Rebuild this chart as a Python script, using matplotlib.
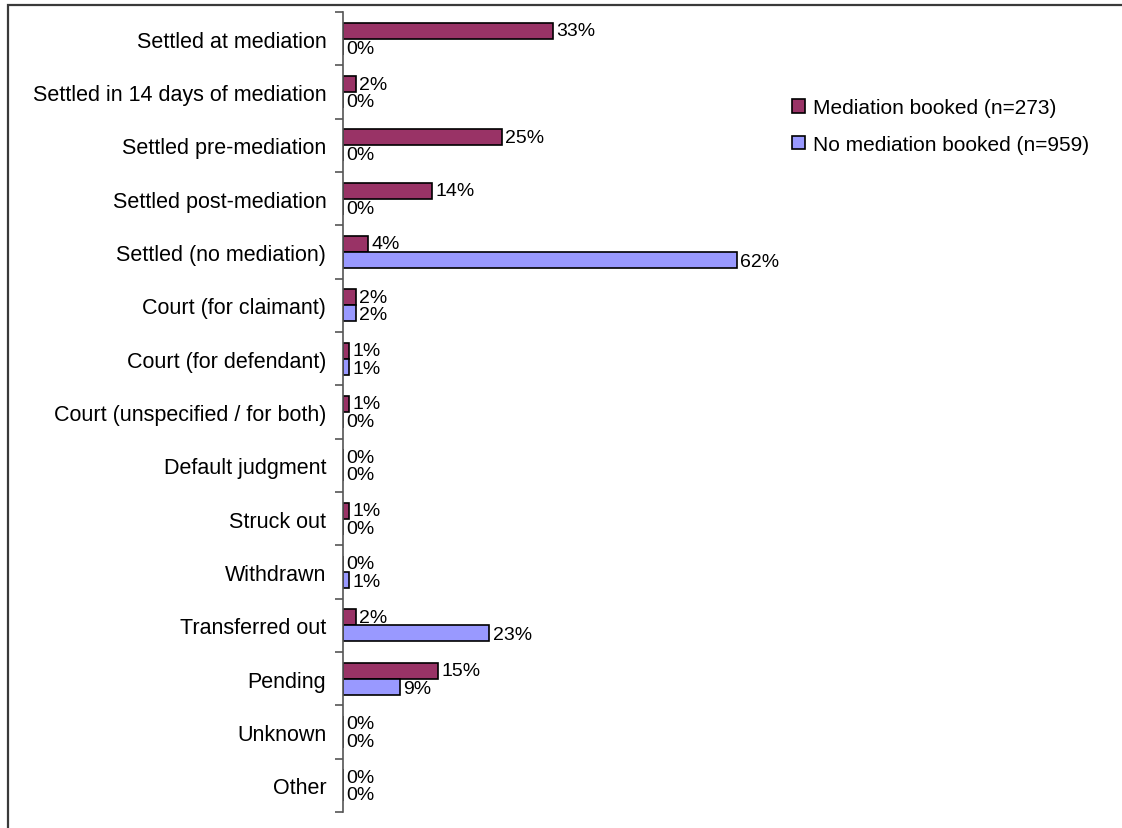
import matplotlib
matplotlib.use("Agg")
import matplotlib.pyplot as plt
from matplotlib.patches import Rectangle, Patch
import numpy as np

plt.rcParams['font.family'] = ['Liberation Sans', 'DejaVu Sans']

categories = [
    "Settled at mediation",
    "Settled in 14 days of mediation",
    "Settled pre-mediation",
    "Settled post-mediation",
    "Settled (no mediation)",
    "Court (for claimant)",
    "Court (for defendant)",
    "Court (unspecified / for both)",
    "Default judgment",
    "Struck out",
    "Withdrawn",
    "Transferred out",
    "Pending",
    "Unknown",
    "Other",
]
mediation_booked = [33, 2, 25, 14, 4, 2, 1, 1, 0, 1, 0, 2, 15, 0, 0]
no_mediation_booked = [0, 0, 0, 0, 62, 2, 1, 0, 0, 0, 1, 23, 9, 0, 0]
series_names = ["Mediation booked (n=273)", "No mediation booked (n=959)"]
colors = ["#993366", "#9999FF"]

W, H = 1122, 829
fig = plt.figure(figsize=(W / 100, H / 100), dpi=100)

# outer chart frame
fig.patches.append(Rectangle((8 / W, -0.1), 1.2, 1 - 5.5 / H + 0.1,
                             transform=fig.transFigure, fill=False,
                             edgecolor="#3a3a3a", linewidth=1.6))

left = 343 / W
top = 1 - 13 / H
bottom = 1 - 813 / H
xmax = 70
right = (343 + 6.35 * xmax) / W
ax = fig.add_axes([left, bottom, right - left, top - bottom])

n = len(categories)
y = np.arange(n)
bh = 0.3
fs_cat = 15.5
fs_val = 14

for vals, off, col, dy in [(mediation_booked, -bh / 2, colors[0], 0),
                           (no_mediation_booked, bh / 2, colors[1], -1)]:
    ax.barh(y + off, vals, height=bh, color=col, edgecolor="black",
            linewidth=1.2)
    for yi, v in zip(y, vals):
        ax.annotate(f"{v}%", (v, yi + off), xytext=(2.5, dy),
                    textcoords="offset points", va="center", ha="left",
                    fontsize=fs_val)

ax.set_ylim(n - 0.5, -0.5)
ax.set_xlim(0, xmax)

ax.set_yticks(y)
ax.set_yticklabels(categories, fontsize=fs_cat)
ax.tick_params(axis="y", which="major", length=0, pad=12)
ax.set_yticks(np.arange(n + 1) - 0.5, minor=True)
ax.tick_params(axis="y", which="minor", length=6, width=1.2, color="#555555")

for s in ["top", "right", "bottom"]:
    ax.spines[s].set_visible(False)
ax.spines["left"].set_color("#555555")
ax.spines["left"].set_linewidth(1.2)
ax.set_xticks([])

handles = [Patch(facecolor=c, edgecolor="black", linewidth=1.2) for c in colors]
fig.legend(handles, series_names, loc="upper left",
           bbox_to_anchor=(784 / W, 1 - 91 / H), frameon=False, fontsize=15,
           handlelength=0.6, handleheight=0.6, handletextpad=0.4,
           labelspacing=0.85, borderaxespad=0)

fig.savefig("out.png", dpi=100, facecolor="white")
